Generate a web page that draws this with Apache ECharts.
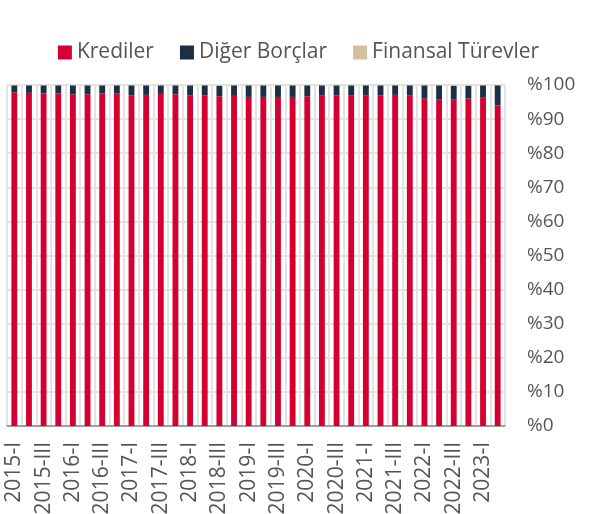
<!DOCTYPE html>
<html>
<head>
<meta charset="utf-8">
<script src="https://cdn.jsdelivr.net/npm/echarts@6/dist/echarts.min.js"></script>
<style>
  html, body { margin: 0; padding: 0; background: #fff; }
  #chart { width: 597px; height: 514px; }
</style>
</head>
<body>
<div id="chart"></div>
<script>
// quarters 2015-I .. 2023-II
const quarters = [];
const romans = ['I', 'II', 'III', 'IV'];
for (let y = 2015; y <= 2023; y++) {
    for (let q = 0; q < 4; q++) {
        if (y === 2023 && q > 1) break;
        quarters.push(y + '-' + romans[q]);
    }
}

const krediler = [
    97.9, 97.7, 97.6, 97.6, 97.3, 97.3, 97.5, 97.5, 97.0, 97.1,
    97.4, 97.3, 97.0, 97.0, 96.7, 96.8, 96.5, 96.5, 96.5, 96.5,
    96.7, 96.9, 97.0, 96.9, 96.9, 97.0, 97.1, 96.9, 96.1, 95.8,
    95.8, 96.0, 96.3, 94.0
];
const digerBorclar = [
    2.0, 2.2, 2.3, 2.3, 2.6, 2.6, 2.4, 2.4, 2.9, 2.8,
    2.5, 2.6, 2.9, 2.9, 3.0, 3.1, 3.4, 3.4, 3.4, 3.4,
    3.2, 3.0, 2.9, 3.0, 3.0, 2.9, 2.8, 3.0, 3.8, 4.1,
    3.9, 3.7, 3.6, 5.9
];
const finansalTurevler = [
    0.1, 0.1, 0.1, 0.1, 0.1, 0.1, 0.1, 0.1, 0.1, 0.1,
    0.1, 0.1, 0.1, 0.1, 0.3, 0.1, 0.1, 0.1, 0.1, 0.1,
    0.1, 0.1, 0.1, 0.1, 0.1, 0.1, 0.1, 0.1, 0.1, 0.1,
    0.3, 0.3, 0.1, 0.1
];

const chart = echarts.init(document.getElementById('chart'));
const font = '"Open Sans", "Noto Sans", sans-serif';

chart.setOption({
    animation: false,
    textStyle: { fontFamily: font },
    legend: {
        top: 37,
        left: 'center',
        itemWidth: 14,
        itemHeight: 14,
        itemGap: 26,
        icon: 'rect',
        textStyle: { fontSize: 21, color: '#555', fontFamily: font },
        data: ['Krediler', 'Diğer Borçlar', 'Finansal Türevler']
    },
    grid: { left: 7, right: 92, top: 85, bottom: 88, outerBoundsMode: 'none', containLabel: false },
    xAxis: {
        type: 'category',
        data: quarters,
        axisLine: { lineStyle: { color: '#888', width: 1.5 } },
        axisTick: { interval: 0, length: 6, lineStyle: { color: '#888', width: 1.5 } },
        axisLabel: {
            interval: 1,
            rotate: 90,
            fontSize: 21,
            color: '#555',
            margin: 16,
            fontFamily: font
        },
        splitLine: { show: true, interval: 0, lineStyle: { color: '#e3e3e3', width: 2 } }
    },
    yAxis: {
        type: 'value',
        position: 'right',
        min: 0,
        max: 100,
        interval: 10,
        axisLine: { show: false },
        axisTick: { show: false },
        axisLabel: {
            formatter: '%{value}',
            fontSize: 19,
            color: '#555',
            margin: 22,
            fontFamily: font
        },
        splitLine: { lineStyle: { color: '#e3e3e3', width: 2 } }
    },
    series: [
        {
            name: 'Krediler', type: 'bar', stack: 'a', barWidth: '40%',
            itemStyle: { color: '#d50032' }, data: krediler
        },
        {
            name: 'Diğer Borçlar', type: 'bar', stack: 'a',
            itemStyle: { color: '#1c2f45' }, data: digerBorclar
        },
        {
            name: 'Finansal Türevler', type: 'bar', stack: 'a',
            itemStyle: { color: '#d6c09b' }, data: finansalTurevler
        }
    ]
});
</script>
</body>
</html>
